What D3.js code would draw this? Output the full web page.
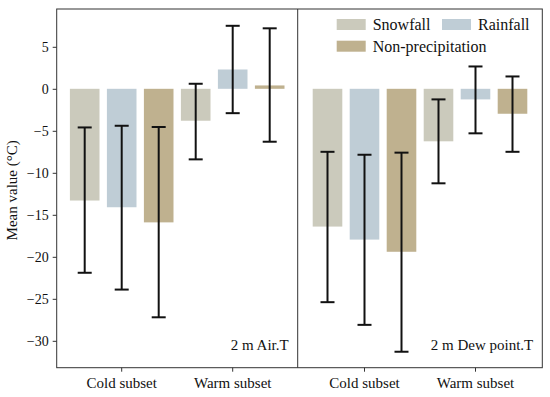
<!DOCTYPE html>
<html>
<head>
<meta charset="utf-8">
<script src="https://cdn.jsdelivr.net/npm/d3@7"></script>
<style>
  body { margin: 0; background: #fff; }
</style>
</head>
<body>
<div id="chart"></div>
<script>
// Mean value bars with error bars, two panels (air T / dew point T)

const groups = ['Cold subset', 'Warm subset'];
const seriesNames = ['Snowfall', 'Rainfall', 'Non-precipitation'];
const panelLabels = ['2 m Air.T', '2 m Dew point.T'];
const yTicks = [5, 0, -5, -10, -15, -20, -25, -30];

// values per panel: [cold, warm] for each series
const airMean  = {Snowfall: [-13.3, -3.8], Rainfall: [-14.1, 2.3], 'Non-precipitation': [-15.9, 0.4]};
const airLow   = {Snowfall: [-21.9, -8.4], Rainfall: [-23.9, -2.9], 'Non-precipitation': [-27.2, -6.3]};
const airHigh  = {Snowfall: [-4.6, 0.6], Rainfall: [-4.4, 7.5], 'Non-precipitation': [-4.55, 7.2]};
const dewMean  = {Snowfall: [-16.4, -6.25], Rainfall: [-17.95, -1.26], 'Non-precipitation': [-19.4, -2.97]};
const dewLow   = {Snowfall: [-25.4, -11.25], Rainfall: [-28.1, -5.3], 'Non-precipitation': [-31.3, -7.5]};
const dewHigh  = {Snowfall: [-7.5, -1.26], Rainfall: [-7.85, 2.66], 'Non-precipitation': [-7.6, 1.47]};

const FONT = '"Liberation Serif", "DejaVu Serif", serif';
const width = 550, height = 397;
const plotTop = 9, plotBottom = 367.7;
const panels = [
	{x0: 56.7, x1: 297.7, mean: airMean, low: airLow, high: airHigh, label: panelLabels[0]},
	{x0: 297.7, x1: 542.3, mean: dewMean, low: dewLow, high: dewHigh, label: panelLabels[1]}
];

const color = d3.scaleOrdinal()
	.domain(seriesNames)
	.range(['#cbcabc', '#bfcdd6', '#bfb18f']);

const y = d3.scaleLinear()
	.domain([-33.2, 9.5])
	.range([plotBottom, plotTop]);

const svg = d3.select('#chart').append('svg')
	.attr('width', width)
	.attr('height', height)
	.style('font-family', FONT);

panels.forEach((p, pi) => {
	const pw = p.x1 - p.x0;
	const groupW = 111;
	const pad = (pw - 2 * groupW) / 2;
	const x0 = d3.scaleBand().domain(groups).range([p.x0 + pad, p.x1 - pad]).paddingInner(0);
	const x1 = d3.scaleBand().domain(seriesNames).range([0, x0.bandwidth()])
		.paddingInner(0.2).paddingOuter(0.1);

	const rows = [];
	groups.forEach((g, gi) => {
		seriesNames.forEach(s => {
			rows.push({group: g, series: s, mean: p.mean[s][gi], low: p.low[s][gi], high: p.high[s][gi]});
		});
	});

	const g = svg.append('g');

	g.selectAll('rect.bar')
		.data(rows)
		.enter()
		.append('rect')
		.attr('class', 'bar')
		.attr('x', d => x0(d.group) + x1(d.series))
		.attr('width', x1.bandwidth())
		.attr('y', d => y(Math.max(0, d.mean)))
		.attr('height', d => Math.abs(y(d.mean) - y(0)))
		.attr('fill', d => color(d.series));

	const eb = g.selectAll('g.err')
		.data(rows)
		.enter()
		.append('g')
		.attr('class', 'err')
		.attr('transform', d => `translate(${x0(d.group) + x1(d.series) + x1.bandwidth() / 2},0)`)
		.attr('stroke', '#111')
		.attr('stroke-width', 2);

	eb.append('line').attr('y1', d => y(d.low)).attr('y2', d => y(d.high));
	eb.append('line').attr('x1', -7).attr('x2', 7).attr('y1', d => y(d.low)).attr('y2', d => y(d.low));
	eb.append('line').attr('x1', -7).attr('x2', 7).attr('y1', d => y(d.high)).attr('y2', d => y(d.high));

	// bottom axis
	const xa = svg.append('g')
		.attr('transform', `translate(0,${plotBottom})`)
		.call(d3.axisBottom(x0).tickSizeOuter(0).tickSize(4).tickPadding(6));
	xa.attr('font-family', null).attr('font-size', null);
	xa.select('.domain').remove();
	xa.selectAll('line').attr('stroke', '#333');
	xa.selectAll('text').style('font-family', FONT).style('font-size', '15px').attr('fill', '#111');

	// panel label
	svg.append('text')
		.attr('x', p.x1 - 9)
		.attr('y', 350)
		.attr('text-anchor', 'end')
		.style('font-family', FONT)
		.style('font-size', '15px')
		.attr('fill', '#111')
		.text(p.label);
});

// left axis
const ya = svg.append('g')
	.attr('transform', `translate(${panels[0].x0},0)`)
	.call(d3.axisLeft(y).tickValues(yTicks).tickSize(4).tickPadding(4)
		.tickFormat(d => d < 0 ? '\u2212' + Math.abs(d) : d));
ya.attr('font-family', null).attr('font-size', null);
ya.select('.domain').remove();
ya.selectAll('line').attr('stroke', '#333');
ya.selectAll('text').style('font-family', FONT).style('font-size', '14px').attr('fill', '#111');

// frame and divider
svg.append('rect')
	.attr('x', panels[0].x0).attr('y', plotTop)
	.attr('width', panels[1].x1 - panels[0].x0).attr('height', plotBottom - plotTop)
	.attr('fill', 'none').attr('stroke', '#333').attr('stroke-width', 1);
svg.append('line')
	.attr('x1', panels[1].x0).attr('x2', panels[1].x0)
	.attr('y1', plotTop).attr('y2', plotBottom)
	.attr('stroke', '#333');

// y label
svg.append('text')
	.attr('transform', `translate(17,${(plotTop + plotBottom) / 2 + 2}) rotate(-90)`)
	.attr('text-anchor', 'middle')
	.style('font-family', FONT)
	.style('font-size', '15px')
	.attr('fill', '#111')
	.text('Mean value (\u00b0C)');

// legend
const legendPos = [{x: 336.7, y: 19}, {x: 442, y: 19}, {x: 336.7, y: 40.7}];
const item = svg.selectAll('.legend')
	.data(seriesNames)
	.enter()
	.append('g')
	.attr('class', 'legend')
	.attr('transform', (d, i) => `translate(${legendPos[i].x},${legendPos[i].y})`);

item.append('rect')
	.attr('width', 29)
	.attr('height', 11)
	.attr('fill', d => color(d));

item.append('text')
	.attr('x', 36)
	.attr('y', 11)
	.style('font-family', FONT)
	.style('font-size', '16px')
	.attr('fill', '#111')
	.text(d => d);
</script>
</body>
</html>
